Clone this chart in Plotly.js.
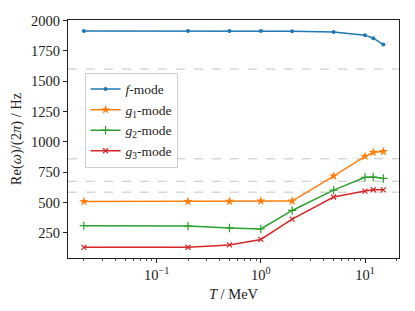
<!DOCTYPE html>
<html>
<head>
<meta charset="utf-8">
<script src="https://cdn.plot.ly/plotly-3.0.1.min.js"></script>
<style>html,body{margin:0;padding:0;background:#fff;}#chart{width:415px;height:311px;}</style>
</head>
<body>
<div id="chart"></div>
<script>
const temperature = [0.02, 0.2, 0.5, 1, 2, 5, 10, 12, 15];
const fMode  = [1915, 1915, 1915, 1915, 1913, 1907, 1880, 1855, 1802];
const g1Mode = [508, 508, 510, 512, 512, 718, 880, 914, 920];
const g2Mode = [309, 306, 290, 281, 434, 602, 708, 710, 698];
const g3Mode = [130, 131, 150, 195, 362, 545, 594, 605, 604];
const refLines = [1600, 860, 675, 585];
const seriesNames = ['<i>f</i>-mode', '<i>g</i><sub>1</sub>-mode', '<i>g</i><sub>2</sub>-mode', '<i>g</i><sub>3</sub>-mode'];
const xTickVals = [0.1, 1, 10];
const xTickText = ['10<sup>−1</sup>', '10<sup>0</sup>', '10<sup>1</sup>'];
const xMinorVals = [0.02,0.03,0.04,0.05,0.06,0.07,0.08,0.09,0.2,0.3,0.4,0.5,0.6,0.7,0.8,0.9,2,3,4,5,6,7,8,9,20];
const yTickVals = [250, 500, 750, 1000, 1250, 1500, 1750, 2000];

const colors = ['#1f77b4', '#ff7f0e', '#2ca02c', '#d62728'];
const markers = [
  {symbol: 'circle', size: 4, lw: 0},
  {symbol: 'star', size: 7, lw: 0},
  {symbol: 'cross-thin', size: 6, lw: 1.2},
  {symbol: 'x-thin', size: 5, lw: 1.2}
];
const ys = [fMode, g1Mode, g2Mode, g3Mode];
const traces = ys.map((y, i) => ({
  x: temperature, y: y, type: 'scatter', mode: 'lines+markers',
  name: seriesNames[i],
  line: {color: colors[i], width: 1.5},
  marker: {color: colors[i], symbol: markers[i].symbol, size: markers[i].size, line: {width: markers[i].lw, color: colors[i]}}
}));

const font = {family: '"Liberation Serif", "DejaVu Serif", serif', size: 14.5, color: '#222'};
const legendFont = {family: font.family, size: 13.5, color: '#222'};
const layout = {
  width: 415, height: 311,
  margin: {l: 68, r: 16, t: 20, b: 53},
  paper_bgcolor: '#fff', plot_bgcolor: '#fff',
  font: font,
  showlegend: true,
  legend: {x: 0.05, y: 0.778, xanchor: 'left', yanchor: 'top', bgcolor: 'rgba(255,255,255,0.9)', bordercolor: '#d0d0d0', borderwidth: 1, font: legendFont, tracegroupgap: 0},
  xaxis: {
    type: 'log', range: [Math.log10(0.0141), Math.log10(21.2)],
    tickvals: xTickVals, ticktext: xTickText,
    ticks: 'outside', ticklen: 4, tickwidth: 1, tickcolor: '#222',
    minor: {tickvals: xMinorVals, ticks: 'outside', ticklen: 2, tickwidth: 0.8, tickcolor: '#222', showgrid: false},
    showgrid: false, zeroline: false,
    showline: true, mirror: true, linecolor: '#222', linewidth: 1,
    title: {text: '<i>T</i> / MeV', font: font, standoff: 6}
  },
  yaxis: {
    range: [42, 2005],
    tickvals: yTickVals,
    ticks: 'outside', ticklen: 4, tickwidth: 1, tickcolor: '#222',
    showgrid: false, zeroline: false,
    showline: true, mirror: true, linecolor: '#222', linewidth: 1,
    title: {text: 'Re(<i>ω</i>)/(2<i>π</i>) / Hz', font: font, standoff: 6}
  },
  shapes: refLines.map(v => ({
    type: 'line', xref: 'paper', x0: 0, x1: 1, yref: 'y', y0: v, y1: v,
    line: {color: '#c4c4c4', width: 1, dash: 'dash'}, layer: 'below'
  }))
};
Plotly.newPlot('chart', traces, layout, {staticPlot: true, displayModeBar: false});
</script>
</body>
</html>
